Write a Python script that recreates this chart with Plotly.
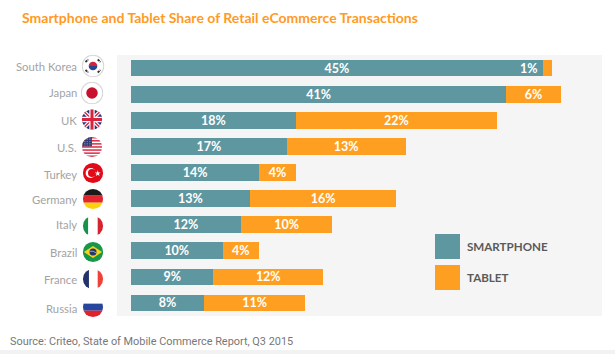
import base64
import plotly.graph_objects as go

countries = ["South Korea", "Japan", "UK", "U.S.", "Turkey", "Germany", "Italy", "Brazil", "France", "Russia"]
smartphone = [45, 41, 18, 17, 14, 13, 12, 10, 9, 8]
tablet = [1, 6, 22, 13, 4, 16, 10, 4, 12, 11]
series_names = ["SMARTPHONE", "TABLET"]
title_text = "Smartphone and Tablet Share of Retail eCommerce Transactions"
source_text = "Source: Criteo, State of Mobile Commerce Report, Q3 2015"

TEAL = "#5f97a1"
ORANGE = "#ff9f22"
W, H = 615, 354
L, R, T, B = 117, 602, 55, 316
RING = '<circle cx="32" cy="32" r="30" fill="none" stroke="#d6d6d6" stroke-width="3"/>'


def flag(body, ring=False):
    svg = ('<svg xmlns="http://www.w3.org/2000/svg" width="64" height="64" viewBox="0 0 64 64">'
           '<defs><clipPath id="c"><circle cx="32" cy="32" r="30"/></clipPath></defs>'
           '<g clip-path="url(#c)">' + body + '</g>' + (RING if ring else '') + '</svg>')
    return "data:image/svg+xml;base64," + base64.b64encode(svg.encode()).decode()


def us_stripes():
    s = '<rect width="64" height="64" fill="#fff"/>'
    for i in range(0, 13, 2):
        s += f'<rect y="{2 + i * 4.6:.1f}" width="64" height="4.6" fill="#d8344a"/>'
    s += '<rect width="32" height="30" fill="#2e3a72"/>'
    for r in range(5):
        for c in range(6):
            s += f'<circle cx="{4 + c * 5}" cy="{5 + r * 5.2:.1f}" r="1" fill="#fff"/>'
    return s


flags = {
    "South Korea": '<rect width="64" height="64" fill="#fff"/>'
                   '<path d="M20 32a12 12 0 0 1 24 0z" fill="#d3213f"/>'
                   '<path d="M20 32a12 12 0 0 0 24 0z" fill="#26478f"/>'
                   '<g stroke="#333" stroke-width="5" stroke-dasharray="7 2">'
                   '<path d="M11 21l8-7M45 14l8 7M11 43l8 7M45 50l8-7"/></g>',
    "Japan": '<rect width="64" height="64" fill="#fff"/><circle cx="32" cy="32" r="16" fill="#c8102e"/>',
    "UK": '<rect width="64" height="64" fill="#27357a"/>'
          '<path d="M0 0L64 64M64 0L0 64" stroke="#fff" stroke-width="11"/>'
          '<path d="M0 0L64 64M64 0L0 64" stroke="#d9223c" stroke-width="4"/>'
          '<path d="M32 0V64M0 32H64" stroke="#fff" stroke-width="16"/>'
          '<path d="M32 0V64M0 32H64" stroke="#d9223c" stroke-width="9"/>',
    "U.S.": us_stripes(),
    "Turkey": '<rect width="64" height="64" fill="#e30a17"/>'
              '<circle cx="25" cy="32" r="15" fill="#fff"/><circle cx="29" cy="32" r="12" fill="#e30a17"/>'
              '<path d="M46 24l2.2 6.5 6.8 0-5.5 4 2.1 6.5-5.6-4-5.5 4 2.1-6.5-5.5-4 6.8 0z" fill="#fff"/>',
    "Germany": '<rect width="64" height="22" fill="#1a1a1a"/><rect y="22" width="64" height="21" fill="#e3262e"/>'
               '<rect y="43" width="64" height="21" fill="#fbd20a"/>',
    "Italy": '<rect width="18" height="64" fill="#17924b"/><rect x="18" width="28" height="64" fill="#fff"/>'
             '<rect x="46" width="18" height="64" fill="#d3242f"/>',
    "Brazil": '<rect width="64" height="64" fill="#17974a"/><path d="M5 32L32 14L59 32L32 50z" fill="#fcd116"/>'
              '<circle cx="32" cy="32" r="10.5" fill="#23386f"/>'
              '<path d="M22 30q11-3 20 5" stroke="#fff" stroke-width="1.6" fill="none"/>',
    "France": '<rect width="20" height="64" fill="#22336b"/><rect x="20" width="26" height="64" fill="#fff"/>'
              '<rect x="46" width="18" height="64" fill="#ef4135"/>',
    "Russia": '<rect width="64" height="22" fill="#fff"/><rect y="22" width="64" height="21" fill="#27479f"/>'
              '<rect y="43" width="64" height="21" fill="#e0222c"/>',
}
flag_y = [66, 93, 119.5, 147, 173, 199, 226, 252, 279, 307]
flag_x = [93, 92, 92, 92, 93, 93, 93, 93, 93, 93]
label_y = [66, 92, 120, 147, 174, 199, 225, 252, 279, 308]
ringed = ["South Korea", "Japan"]

fig = go.Figure()
px_per_unit = 9.15
xr = [(L - 131) / px_per_unit, (R - 131) / px_per_unit]
label_font = dict(family="Lato", size=12.5, color="#fff", weight=700)

fig.add_bar(y=countries, x=smartphone, orientation="h", name=series_names[0], marker_color=TEAL,
            marker_line_width=0,
            text=[f"{v}%" for v in smartphone], textposition="inside", insidetextanchor="middle",
            textangle=0, textfont=label_font, constraintext="none", width=0.64)
fig.add_bar(y=countries, x=tablet, orientation="h", name=series_names[1], marker_color=ORANGE,
            marker_line_width=0,
            text=[f"{v}%" if v > 1 else "" for v in tablet], textposition="inside", insidetextanchor="middle",
            textangle=0, textfont=label_font, constraintext="none", width=0.64)

anns = []
# the 1% label sits at the end of the teal segment in the reference
for c, s, t in zip(countries, smartphone, tablet):
    if t <= 1:
        anns.append(dict(x=s - 0.35, y=c, xref="x", yref="y", text=f"{t}%", showarrow=False, xanchor="right",
                         font=label_font))

images = []
for c, fx, fy, ly in zip(countries, flag_x, flag_y, label_y):
    size = 23 if c in ringed else 21.5
    images.append(dict(source=flag(flags[c], c in ringed), xref="paper", yref="paper", xanchor="center", yanchor="middle",
                       x=(fx - L) / (R - L), y=(B - fy) / (B - T), sizex=size / (R - L), sizey=size / (B - T),
                       sizing="stretch", layer="above"))
    anns.append(dict(xref="paper", yref="paper", x=(77.5 - L) / (R - L), y=(B - ly) / (B - T), text=c,
                     showarrow=False, xanchor="right", yanchor="middle", xshift=1,
                     font=dict(family="Lato", size=11.3, color="#a3a3a3")))

shapes = [
    dict(type="rect", xref="paper", yref="paper", x0=(435 - L) / (R - L), x1=(460 - L) / (R - L),
         y0=(B - 259) / (B - T), y1=(B - 234) / (B - T), fillcolor=TEAL, line_width=0),
    dict(type="rect", xref="paper", yref="paper", x0=(435 - L) / (R - L), x1=(460 - L) / (R - L),
         y0=(B - 290) / (B - T), y1=(B - 265) / (B - T), fillcolor=ORANGE, line_width=0),
    dict(type="rect", xref="paper", yref="paper", x0=-L / (R - L), x1=(W - L) / (R - L),
         y0=(B - H) / (B - T), y1=(B - 350) / (B - T), fillcolor="#f2f2f2", line_width=0),
]
for name, ly in zip(series_names, [246, 277]):
    anns.append(dict(xref="paper", yref="paper", x=(467 - L) / (R - L), y=(B - ly) / (B - T), text=name,
                     showarrow=False, xanchor="left", yanchor="middle", xshift=-2,
                     font=dict(family="Lato", size=11.6, color="#5a5a5a", weight=700)))
anns.append(dict(xref="paper", yref="paper", x=(22 - L) / (R - L), y=(B - 18) / (B - T), text=title_text,
                 showarrow=False, xanchor="left", yanchor="middle", xshift=-2,
                 font=dict(family="Lato", size=14, color="#ff9a24", weight=700)))
anns.append(dict(xref="paper", yref="paper", x=(10 - L) / (R - L), y=(B - 341) / (B - T), text=source_text,
                 showarrow=False, xanchor="left", yanchor="middle", xshift=-2,
                 font=dict(family="Roboto", size=10.9, color="#777777")))

fig.update_layout(
    width=W, height=H, autosize=False, barmode="stack", showlegend=False,
    margin=dict(l=L, r=W - R, t=T, b=H - B, pad=0),
    paper_bgcolor="#ffffff", plot_bgcolor="#f5f5f5",
    xaxis=dict(range=xr, visible=False, fixedrange=True),
    yaxis=dict(visible=False, autorange=False, range=[9.5, -0.5], type="category",
               categoryorder="array", categoryarray=countries, fixedrange=True),
    annotations=anns, shapes=shapes, images=images,
)
fig.write_html("out.html", post_script="document.body.style.margin='0';document.body.style.overflow='hidden';",
               config={"displayModeBar": False})
